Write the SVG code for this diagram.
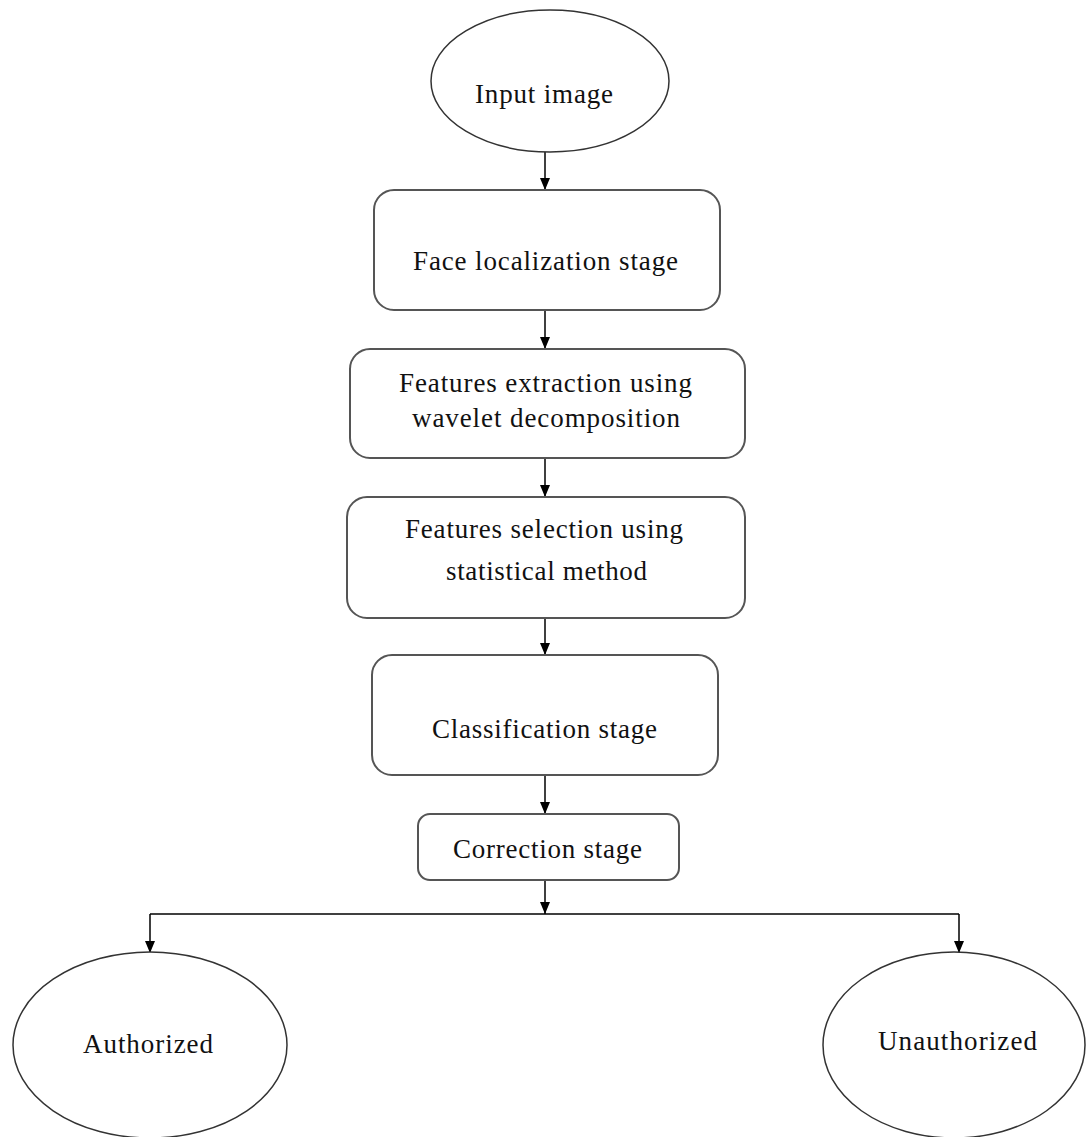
<svg xmlns="http://www.w3.org/2000/svg" width="1086" height="1137" viewBox="0 0 1086 1137">
  <style>
    .lbl { font-family: "Liberation Serif", "Times New Roman", serif; font-size: 27px; fill: #111; }
    .box { fill: #fff; stroke: #555; stroke-width: 2; }
    .oval { fill: #fff; stroke: #333; stroke-width: 1.5; }
    .wire { fill: none; stroke: #000; stroke-width: 1.5; }
  </style>
  <defs>
    <!-- filled triangular head, tip at the end of the line -->
    <marker id="arrow" viewBox="0 0 12 10" refX="12" refY="5" markerWidth="12" markerHeight="10" markerUnits="userSpaceOnUse" orient="auto">
      <path d="M0,0 L12,5 L0,10 Z" fill="#000"/>
    </marker>
  </defs>
  <rect width="1086" height="1137" fill="#fff"/>

  <!-- connectors -->
  <g id="connectors">
    <line class="wire" x1="545" y1="152" x2="545" y2="190" marker-end="url(#arrow)"/>
    <line class="wire" x1="545" y1="310" x2="545" y2="349" marker-end="url(#arrow)"/>
    <line class="wire" x1="545" y1="458" x2="545" y2="497" marker-end="url(#arrow)"/>
    <line class="wire" x1="545" y1="618" x2="545" y2="655" marker-end="url(#arrow)"/>
    <line class="wire" x1="545" y1="775" x2="545" y2="814" marker-end="url(#arrow)"/>
    <line class="wire" x1="545" y1="880" x2="545" y2="914" marker-end="url(#arrow)"/>
    <line class="wire" x1="150" y1="914" x2="959" y2="914"/>
    <line class="wire" x1="150" y1="914" x2="150" y2="953" marker-end="url(#arrow)"/>
    <line class="wire" x1="959" y1="914" x2="959" y2="953" marker-end="url(#arrow)"/>
  </g>

  <g id="input-image">
    <ellipse class="oval" cx="550" cy="81" rx="119" ry="71"/>
    <text class="lbl" x="475" y="103" textLength="138" lengthAdjust="spacing">Input image</text>
  </g>

  <g id="face-localization">
    <rect class="box" x="374" y="190" width="346" height="120" rx="20"/>
    <text class="lbl" x="413" y="270" textLength="265" lengthAdjust="spacing">Face localization stage</text>
  </g>

  <g id="feature-extraction">
    <rect class="box" x="350" y="349" width="395" height="109" rx="20"/>
    <text class="lbl" x="399" y="392" textLength="293" lengthAdjust="spacing">Features extraction using</text>
    <text class="lbl" x="412" y="427" textLength="268" lengthAdjust="spacing">wavelet decomposition</text>
  </g>

  <g id="feature-selection">
    <rect class="box" x="347" y="497" width="398" height="121" rx="20"/>
    <text class="lbl" x="405" y="538" textLength="278" lengthAdjust="spacing">Features selection using</text>
    <text class="lbl" x="446" y="580" textLength="201" lengthAdjust="spacing">statistical method</text>
  </g>

  <g id="classification">
    <rect class="box" x="372" y="655" width="346" height="120" rx="20"/>
    <text class="lbl" x="432" y="738" textLength="225" lengthAdjust="spacing">Classification stage</text>
  </g>

  <g id="correction">
    <rect class="box" x="418" y="814" width="261" height="66" rx="12"/>
    <text class="lbl" x="453" y="858" textLength="189" lengthAdjust="spacing">Correction stage</text>
  </g>

  <g id="authorized">
    <ellipse class="oval" cx="150" cy="1045" rx="137" ry="93"/>
    <text class="lbl" x="83" y="1053" textLength="130" lengthAdjust="spacing">Authorized</text>
  </g>

  <g id="unauthorized">
    <ellipse class="oval" cx="954" cy="1045" rx="131" ry="93"/>
    <text class="lbl" x="878" y="1050" textLength="159" lengthAdjust="spacing">Unauthorized</text>
  </g>
</svg>
